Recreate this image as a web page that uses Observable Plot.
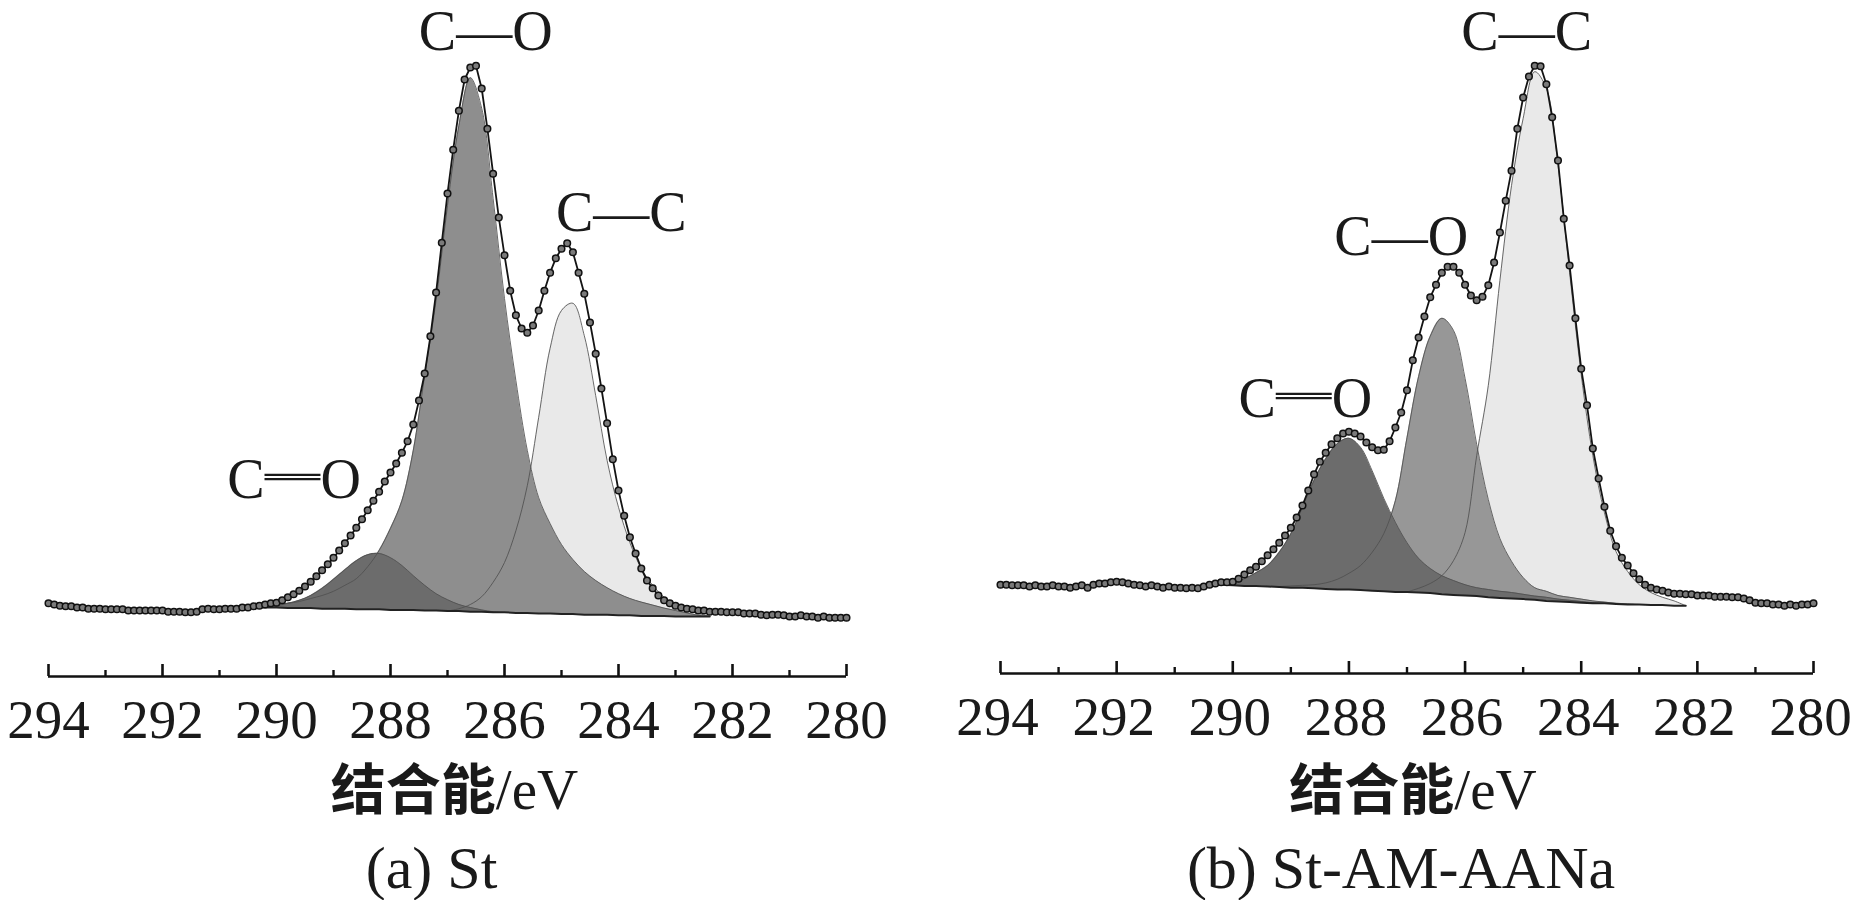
<!DOCTYPE html>
<html><head><meta charset="utf-8">
<script src="https://cdn.jsdelivr.net/npm/d3@7"></script>
<script src="https://cdn.jsdelivr.net/npm/@observablehq/plot@0.6"></script>
<style>
html,body{margin:0;padding:0;background:#fff;}
#fig{position:relative;width:1853px;height:900px;overflow:hidden;background:#fff;}
#fig svg{position:absolute;top:0;}
#fig svg text{font-family:"Liberation Serif","Times New Roman",serif !important;}
</style></head><body><div id="fig"></div>
<script>
// ---- axis ----
const majorTicks = [294, 292, 290, 288, 286, 284, 282, 280];
const minorTicks = [293, 291, 289, 287, 285, 283, 281];
const xLabelCJK = "结合能";
const xLabelUnit = "/eV";

// ---- (a) St : measured spectrum, 294.0 -> 280.0 eV, every 0.1 eV ----
const envA = [
 12.2,12.0,11.8,11.7,11.7,11.5,11.5,11.3,11.3,11.3,11.2,
 11.2,11.2,11.2,11.0,11.0,11.0,11.0,11.0,11.0,11.0,
 10.8,10.8,10.8,10.7,10.7,10.8,11.2,11.3,11.2,11.2,
 11.3,11.3,11.3,11.5,11.5,11.7,11.8,12.0,12.2,12.3,
 12.7,13.2,13.7,14.3,15.0,15.8,16.7,17.7,18.7,19.8,
 21.0,22.2,23.5,24.8,26.2,27.7,29.3,30.8,32.5,34.0,
 35.5,37.3,39.2,42.0,46.0,50.5,56.7,64.0,72.3,80.5,
 87.8,94.3,99.5,101.5,101.8,98.0,91.3,83.8,76.5,70.2,
 64.3,60.2,58.0,57.3,58.5,61.0,64.3,67.3,69.7,71.3,
 72.2,70.7,67.3,63.8,59.0,53.8,48.0,42.2,36.2,31.0,
 26.8,23.2,20.5,18.0,16.0,14.7,13.5,12.7,12.2,11.8,
 11.5,11.3,11.2,11.0,11.0,10.8,10.8,10.8,10.7,10.7,
 10.7,10.5,10.5,10.5,10.3,10.2,10.3,10.3,10.2,10.0,
 10.0,10.2,10.0,10.0,9.8,10.0,9.8,9.8,9.8,9.8
];
// fitted components of (a): grid 290.6 -> 282.4 eV every 0.2 eV
const gridStartA = 290.6;
const bgA = [11.6,11.5,11.5,11.5,11.4,11.4,11.4,11.3,11.3,11.3,11.2,11.2,11.2,11.1,11.1,11.1,11.0,11.0,10.9,10.9,10.8,10.8,10.7,10.7,10.6,10.6,10.5,10.5,10.4,10.4,10.3,10.3,10.3,10.2,10.2,10.1,10.1,10.1,10.0,10.0,10.0,10.0];
const dblA = [11.6,11.5,11.6,11.8,12.2,12.7,13.5,14.7,16.2,17.8,19.3,20.3,20.5,19.8,18.5,16.8,15.2,13.8,12.8,12.0,11.5,11.1,10.8,10.7,null,null,null,null,null,null,null,null,null,null,null,null,null,null,null,null,null,null];
const coA = [11.7,11.8,11.8,12.0,12.2,12.5,13.0,13.5,14.2,15.2,16.3,18.3,21.0,24.7,29.3,37.7,50.2,62.7,78.5,91.8,99.8,94.7,79.7,63.0,49.3,37.7,29.8,25.5,22.0,19.5,17.5,16.0,14.8,13.8,13.0,12.4,11.9,11.4,11.0,10.6,10.2,10.0];
const ccA = [null,null,null,null,null,null,null,null,null,null,null,null,null,null,null,null,null,null,10.9,11.3,12.0,13.3,15.7,19.0,24.3,31.8,43.2,54.7,61.0,62.2,56.8,46.8,36.0,28.2,22.3,18.0,15.2,13.2,11.8,11.0,10.5,10.0];
const labelsA = ["C—O", "C—C", "C═O"];
const labelXA = [286.33, 283.95, 289.69];
const labelYA = [104.5, 74.3, 29.7];
const captionA = "(a) St";

// ---- (b) St-AM-AANa ----
const envB = [
 14.8,14.8,14.7,14.7,14.7,14.5,14.7,14.5,14.5,14.7,14.5,
 14.5,14.3,14.5,14.7,14.3,14.8,15.0,15.0,15.2,15.3,
 15.2,15.0,14.8,14.7,14.5,14.7,14.5,14.3,14.5,14.3,
 14.3,14.2,14.3,14.2,14.5,14.8,15.0,15.2,15.2,15.3,
 15.8,16.5,17.2,17.8,18.7,19.7,20.7,21.8,23.0,24.3,
 26.0,28.0,30.5,33.2,35.3,36.8,38.2,39.2,40.0,40.3,
 40.0,39.5,38.5,37.7,37.2,37.3,38.7,41.0,43.5,47.2,
 52.2,56.0,59.5,62.7,64.8,66.8,67.8,67.8,66.8,64.8,
 63.0,62.2,62.8,64.7,68.5,73.5,78.8,83.8,90.8,96.0,
 99.5,101.3,101.2,98.2,92.7,85.5,75.8,68.0,59.2,50.8,
 44.7,37.5,32.5,27.8,23.8,21.2,19.3,18.0,16.7,15.7,
 14.8,14.3,14.0,13.8,13.5,13.3,13.3,13.2,13.2,13.0,
 13.0,13.0,12.8,12.8,12.8,12.7,12.7,12.5,12.2,11.8,
 11.7,11.7,11.5,11.5,11.3,11.5,11.3,11.5,11.5,11.7
];
// fitted components of (b): grid 290.4 -> 282.2 eV every 0.2 eV
const gridStartB = 290.4;
const bgB = [14.8,14.8,14.7,14.6,14.6,14.5,14.4,14.3,14.3,14.2,14.1,14.0,14.0,13.9,13.8,13.7,13.6,13.6,13.5,13.4,13.2,13.1,13.0,12.9,12.7,12.6,12.5,12.4,12.3,12.1,12.0,11.9,11.8,11.7,11.7,11.6,11.5,11.5,11.4,11.4,11.3,11.3];
const dblB = [14.8,14.9,15.2,15.8,16.8,18.0,20.2,23.3,27.7,32.2,35.8,38.3,39.2,37.7,33.8,29.2,25.2,21.8,19.2,17.5,16.3,15.5,14.8,14.3,14.0,13.7,13.5,13.2,12.9,12.7,12.4,12.2,12.0,11.8,11.7,null,null,null,null,null,null,null];
const coB = [null,null,null,null,null,14.5,14.5,14.6,14.7,14.8,15.1,15.7,16.7,18.0,20.2,23.3,28.8,39.3,49.5,56.2,59.2,57.2,49.2,38.2,29.0,22.5,18.7,16.0,14.3,13.7,13.0,12.7,12.4,12.1,11.9,11.7,11.6,11.5,null,null,null,null];
const ccB = [null,null,null,null,null,null,null,null,null,null,null,null,null,null,null,null,null,13.6,14.2,15.0,16.3,18.8,23.5,36.3,48.0,65.5,81.3,92.5,100.3,97.5,84.7,66.8,49.8,36.3,26.8,20.3,17.0,14.8,13.5,12.7,12.1,11.3];
const labelsB = ["C—C", "C—O", "C═O"];
const labelXB = [284.94, 287.10, 288.75];
const labelYB = [104.0, 69.7, 42.7];
const captionB = "(b) St-AM-AANa";

const serifFont = "Liberation Serif";
const cjkFont = "'Noto Sans CJK SC', 'Noto Sans CJK JP', sans-serif";

function panel(o) {
  const env = o.env.map((v, i) => ({e: +(294 - i * 0.1).toFixed(1), v}));
  const grid = o.bg.map((b, i) => ({e: +(o.gridStart - i * 0.2).toFixed(1), i}));
  const comps = [
    {vals: o.cc, fill: "#e9e9e9"},
    {vals: o.co, fill: o.coFill},
    {vals: o.dbl, fill: "#6c6c6c"}
  ];
  const marks = [];
  for (const c of comps) {
    const d = grid.filter(g => c.vals[g.i] != null);
    marks.push(Plot.areaY(d, {x: "e", y1: g => o.bg[g.i], y2: g => c.vals[g.i], fill: c.fill, curve: "catmull-rom"}));
  }
  for (const c of comps) {
    const d = grid.filter(g => c.vals[g.i] != null);
    marks.push(Plot.line(d, {x: "e", y: g => c.vals[g.i], stroke: "#505050", strokeWidth: 1, strokeOpacity: 0.85, curve: "catmull-rom"}));
  }
  marks.push(Plot.line(grid, {x: "e", y: g => o.bg[g.i], stroke: "#222", strokeWidth: 2}));
  marks.push(Plot.line(env, {x: "e", y: "v", stroke: "#141414", strokeWidth: 1.8}));
  marks.push(Plot.dot(env, {x: "e", y: "v", r: 3.3, fill: "#7a7a7a", stroke: "#111", strokeWidth: 1.5}));
  // axis
  marks.push(Plot.ruleY([0], {x1: 294, x2: 280, stroke: "#111", strokeWidth: 2.6}));
  marks.push(Plot.ruleX(majorTicks, {x: d => d, y1: 0, y2: 2, stroke: "#111", strokeWidth: 2.6}));
  marks.push(Plot.ruleX(minorTicks, {x: d => d, y1: 0, y2: 1, stroke: "#111", strokeWidth: 2.4}));
  marks.push(Plot.text(majorTicks, {x: d => d, text: d => String(d), frameAnchor: "bottom", lineAnchor: "bottom", dy: 61, dx: o.tickDx, fontSize: 55, fill: "#1a1a1a", fontFamily: serifFont}));
  marks.push(Plot.text([xLabelCJK + xLabelUnit], {text: d => d, frameAnchor: "bottom", lineAnchor: "bottom", dy: o.labelDy, dx: o.labelDx, fontSize: 57, fill: "#1a1a1a", fontFamily: serifFont}));
  marks.push(Plot.text([o.caption], {text: d => d, frameAnchor: "bottom", lineAnchor: "bottom", dy: o.capDy, dx: o.capDx, fontSize: 60, fill: "#1a1a1a", fontFamily: serifFont}));
  // peak labels
  const lab = o.labels.map((t, i) => ({t, x: o.lx[i], y: o.ly[i]}));
  marks.push(Plot.text(lab, {x: "x", y: "y", text: "t", lineAnchor: "bottom", fontSize: 56, fill: "#1a1a1a", fontFamily: serifFont}));

  const svg = Plot.plot({
    width: o.width, height: 900,
    marginLeft: o.ml, marginRight: o.mr, marginTop: o.mt, marginBottom: o.mb,
    x: {domain: [294, 280], axis: null},
    y: {domain: [0, 110], axis: null},
    style: {background: "transparent", overflow: "visible", fontFamily: serifFont},
    marks
  });
  d3.select(svg).selectAll("text").each(function () {
    const t = this.textContent;
    const s = d3.select(this);
    if (t.includes("═")) {
      const p = t.split("═");
      s.text(null);
      s.append("tspan").text(p[0]);
      s.append("tspan").attr("style", "font-family:" + cjkFont).text("═");
      s.append("tspan").text(p[1]);
    } else if (t.startsWith(xLabelCJK)) {
      s.text(null);
      s.append("tspan").attr("style", "font-family:" + cjkFont + ";font-weight:bold;font-size:55px").text(xLabelCJK);
      s.append("tspan").text(t.slice(xLabelCJK.length));
    }
  });
  svg.style.left = o.left + "px";
  return svg;
}

const fig = document.getElementById("fig");
fig.appendChild(panel({
  env: envA, bg: bgA, gridStart: gridStartA, dbl: dblA, co: coA, cc: ccA, coFill: "#8e8e8e",
  labels: labelsA, lx: labelXA, ly: labelYA, caption: captionA,
  left: 0, width: 926, ml: 48, mr: 80, mt: 16, mb: 224, tickDx: 0,
  labelDy: 132, labelDx: 7, capDy: 211, capDx: -16
}));
fig.appendChild(panel({
  env: envB, bg: bgB, gridStart: gridStartB, dbl: dblB, co: coB, cc: ccB, coFill: "#979797",
  labels: labelsB, lx: labelXB, ly: labelYB, caption: captionB,
  left: 926, width: 927, ml: 74, mr: 40, mt: 13, mb: 227, tickDx: -3,
  labelDy: 135, labelDx: 6, capDy: 214, capDx: -6
}));
</script></body></html>
